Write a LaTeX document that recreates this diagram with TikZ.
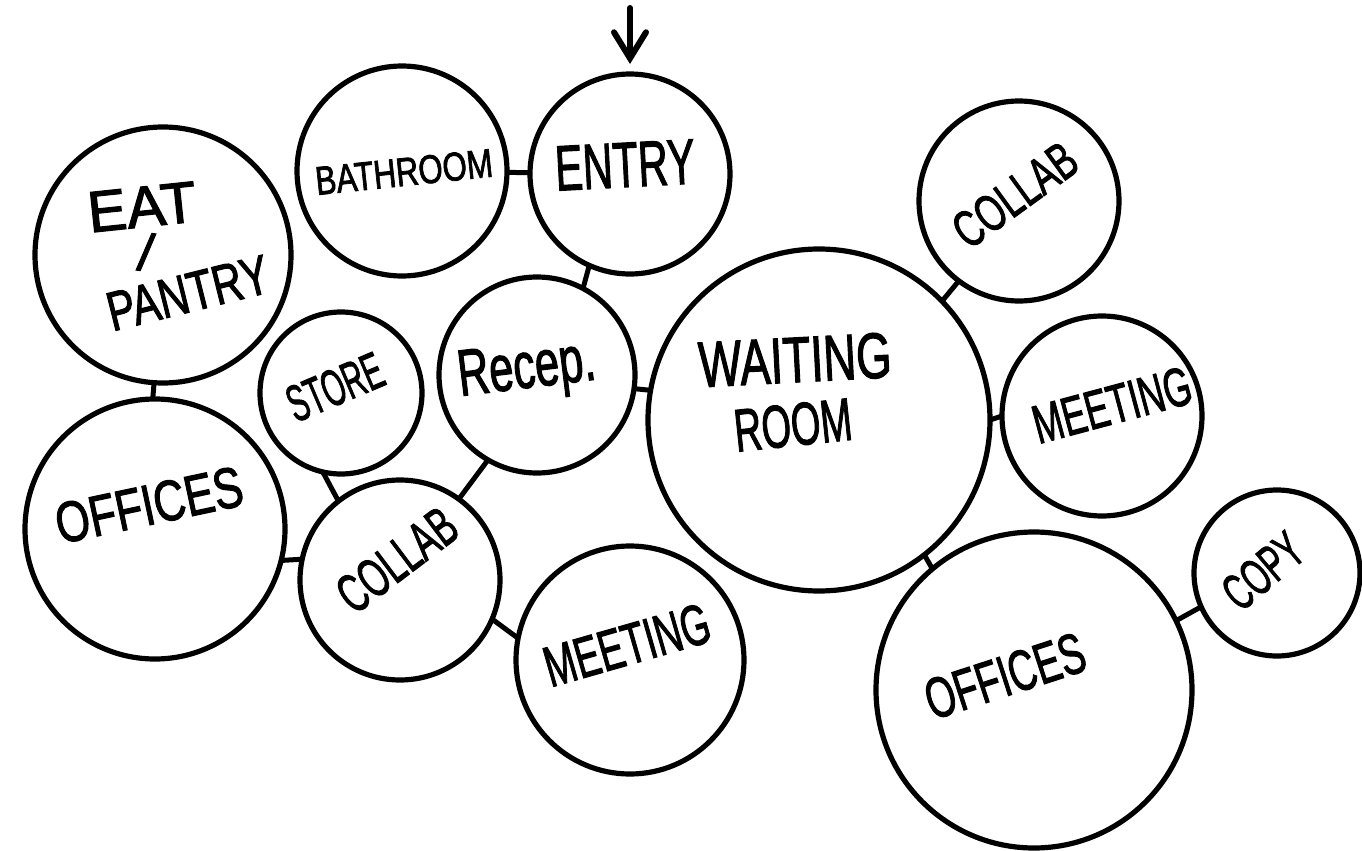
\documentclass[tikz,border=0pt]{standalone}
\usepackage{fontspec}
\setmainfont{Liberation Sans}
\newfontfamily\handfont{Liberation Sans}[FakeBold=2]
\usetikzlibrary{arrows.meta}
\newcommand{\handtext}[3]{\resizebox{#1pt}{#2pt}{\handfont #3}}
\tikzset{
  bub/.style={circle, draw=black, line width=2.6pt, inner sep=0pt, outer sep=0pt},
  conn/.style={draw=black, line width=2.5pt},
  lbl/.style={inner sep=0pt, outer sep=0pt, text=black},
  entryarrow/.style={draw=black, line width=3pt, line cap=round, -{Straight Barb[length=13pt,width=16pt,line cap=round]}, shorten >=5pt}
}
\begin{document}
\begin{tikzpicture}[x=0.5pt,y=-0.5pt]
\fill[white] (0,0) rectangle (1362,851);
\useasboundingbox (0,0) rectangle (1362,851);

% bubbles (minimum size in pt = radius in px)
\node[bub, minimum size=128pt] (eat)      at (163,255) {};
\node[bub, minimum size=105pt] (bath)     at (402,171) {};
\node[bub, minimum size=100pt] (entry)    at (630,174) {};
\node[bub, minimum size=81pt]  (store)    at (341,393) {};
\node[bub, minimum size=98pt]  (recep)    at (537,375) {};
\node[bub, minimum size=171pt] (waiting)  at (819,420) {};
\node[bub, minimum size=100pt] (collabtr) at (1019,201) {};
\node[bub, minimum size=100pt] (meetr)    at (1102,416) {};
\node[bub, minimum size=83pt]  (copy)     at (1277,573) {};
\node[bub, minimum size=158pt] (offr)     at (1034,690) {};
\node[bub, minimum size=130pt] (offl)     at (155,529) {};
\node[bub, minimum size=100pt] (collabl)  at (400,580) {};
\node[bub, minimum size=114pt] (meetb)    at (630,660) {};

% labels
\node[lbl, rotate=6]  (tbath)   at (404,172) {\handtext{89}{14}{BATHROOM}};
\node[lbl, rotate=3]  (tentry)  at (625,165) {\handtext{70}{22}{ENTRY}};
\node[lbl, rotate=6]  (teat)    at (142,207) {\handtext{54.5}{20}{EAT}};
\node[lbl, rotate=-8] (tslash)  at (146,252) {\resizebox{!}{19pt}{\handfont /}};
\node[lbl, rotate=14] (tpantry) at (188,293) {\handtext{82.5}{19}{PANTRY}};
\node[lbl, rotate=23] (tstore)  at (335,387) {\handtext{50}{18}{STORE}};
\node[lbl, rotate=7]  (trecep)  at (527,372) {\handtext{69}{22.5}{Recep.}};
\node[lbl, rotate=3]  (twait)   at (795,360) {\handtext{96.5}{22.5}{WAITING}};
\node[lbl, rotate=6]  (troom)   at (793,425) {\handtext{59}{21}{ROOM}};
\node[lbl, rotate=36] (tcolltr) at (1015,195) {\handtext{70}{18}{COLLAB}};
\node[lbl, rotate=15] (tmeetr)  at (1112,405) {\handtext{81}{19}{MEETING}};
\node[lbl, rotate=12] (toffl)   at (149,505) {\handtext{95}{20}{OFFICES}};
\node[lbl, rotate=37] (tcolll)  at (397,560) {\handtext{67.5}{19}{COLLAB}};
\node[lbl, rotate=16] (tmeetb)  at (627,645) {\handtext{85}{20}{MEETING}};
\node[lbl, rotate=18] (toffr)   at (1005,676) {\handtext{82.5}{20}{OFFICES}};
\node[lbl, rotate=40] (tcopy)   at (1263,571) {\handtext{44}{18}{COPY}};

% connectors
\draw[conn] (bath) -- (entry);
\draw[conn] (entry.-114) -- (recep.62);
\draw[conn] (recep.-8) -- (waiting.170);
\draw[conn] (eat.-94) -- (offl.91);
\draw[conn] (store.-103) -- (collabl.128);
\draw[conn] (recep.-120) -- (collabl.54);
\draw[conn] (offl.-14) -- (collabl.168);
\draw[conn] (collabl.-23) -- (meetb.169);
\draw[conn] (waiting.44) -- (collabtr.-127);
\draw[conn] (waiting.0) -- (meetr.180);
\draw[conn] (waiting.-52) -- (offr.130);
\draw[conn] (offr.26) -- (copy.-156);

% entry arrow
\coordinate (arrowtail) at (630,8);
\draw[entryarrow] (arrowtail) -- (entry);
\end{tikzpicture}
\end{document}
